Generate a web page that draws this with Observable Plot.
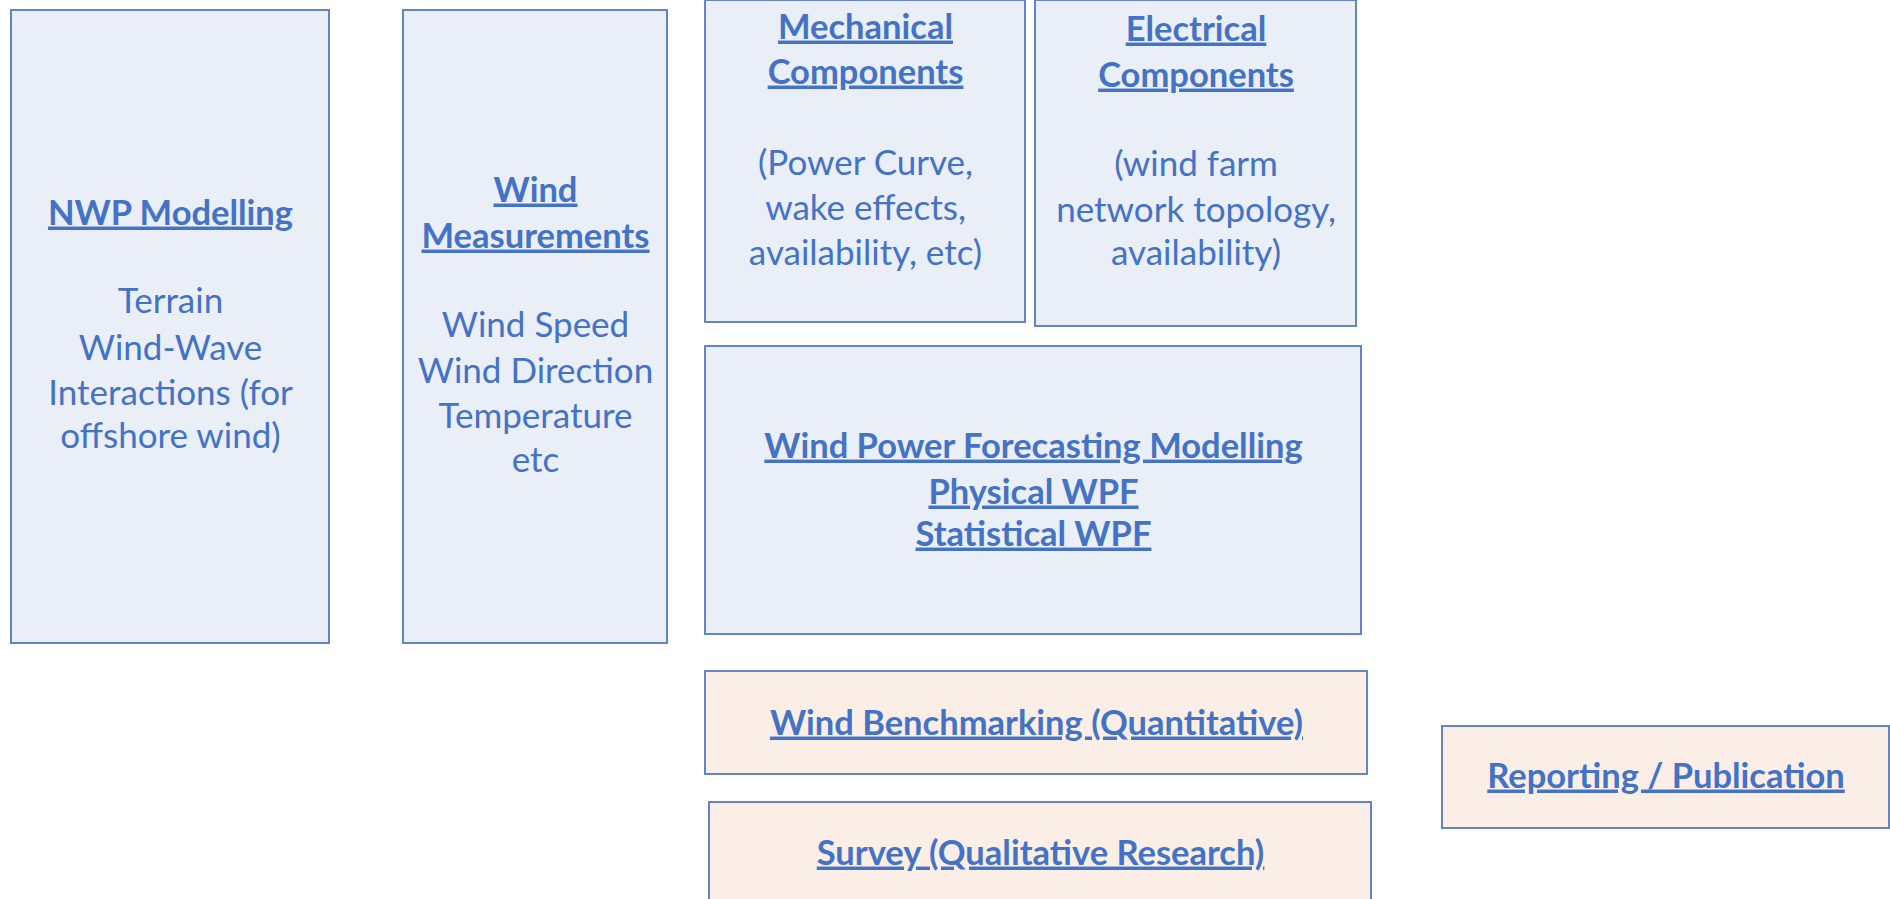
<!DOCTYPE html>
<html>
<head>
<meta charset="utf-8">
<script src="https://cdn.jsdelivr.net/npm/d3@7"></script>
<script src="https://cdn.jsdelivr.net/npm/@observablehq/plot@0.6"></script>
<style>
  html, body { margin: 0; padding: 0; background: #ffffff; }
  #chart svg { display: block; }
  #chart g.title-line text { text-decoration: underline; }
</style>
</head>
<body>
<div id="chart"></div>
<script>
// ---- Data: boxes of the diagram ----
const boxNames = ["NWP Modelling", "Wind Measurements", "Mechanical Components", "Electrical Components",
  "Wind Power Forecasting Modelling", "Wind Benchmarking", "Survey", "Reporting / Publication"];
const boxKind = ["model", "model", "model", "model", "model", "evaluation", "evaluation", "evaluation"];
const boxLeft   = [11, 403, 705, 1035, 705, 705, 709, 1442];
const boxRight  = [329, 667, 1025, 1356, 1361, 1367, 1371, 1889];
const boxTop    = [10, 10, 0, 0, 346, 671, 802, 726];
const boxBottom = [643, 643, 322, 326, 634, 774, 905, 828];

// ---- Data: text lines ----
const lineText = [
  "NWP Modelling", "Terrain", "Wind-Wave", "Interactions (for", "offshore wind)",
  "Wind", "Measurements", "Wind Speed", "Wind Direction", "Temperature", "etc",
  "Mechanical", "Components", "(Power Curve,", "wake effects,", "availability, etc)",
  "Electrical", "Components", "(wind farm", "network topology,", "availability)",
  "Wind Power Forecasting Modelling", "Physical WPF", "Statistical WPF",
  "Wind Benchmarking (Quantitative)", "Survey (Qualitative Research)", "Reporting / Publication"
];
const lineBox = [0,0,0,0,0, 1,1,1,1,1,1, 2,2,2,2,2, 3,3,3,3,3, 4,4,4, 5,6,7];
const lineY = [213, 301, 348, 393, 436,
  190, 236, 325, 371, 416, 460,
  27, 72, 163, 208, 253,
  29, 75, 164, 210, 253,
  446, 492, 534,
  723, 853, 776];
const lineIsTitle = [true,false,false,false,false,
  true,true,false,false,false,false,
  true,true,false,false,false,
  true,true,false,false,false,
  true,true,true,
  true,true,true];

const boxes = boxNames.map((name, i) => ({name, kind: boxKind[i], x1: boxLeft[i], x2: boxRight[i], y1: boxTop[i], y2: boxBottom[i]}));
const lines = lineText.map((text, i) => ({
  text, title: lineIsTitle[i], y: lineY[i],
  x: (boxLeft[lineBox[i]] + boxRight[lineBox[i]]) / 2
}));

const W = 1890, H = 899;
const textColor = "#4472C4";
const fontFamily = "Lato, 'Open Sans', sans-serif";

const chart = Plot.plot({
  width: W, height: H,
  margin: 0,
  x: {domain: [0, W], range: [0, W], axis: null},
  y: {domain: [0, H], range: [0, H], axis: null},
  color: {domain: ["model", "evaluation"], range: ["#E9EEF7", "#FBEEE6"]},
  style: {background: "#ffffff", fontFamily},
  marks: [
    Plot.rect(boxes, {x1: "x1", x2: "x2", y1: "y1", y2: "y2", fill: "kind", stroke: "#6584C4", strokeWidth: 2}),
    Plot.text(lines.filter(d => d.title), {x: "x", y: "y", text: "text", fill: textColor, fontSize: 34.5, fontWeight: "bold", className: "title-line"}),
    Plot.text(lines.filter(d => !d.title), {x: "x", y: "y", text: "text", fill: textColor, fontSize: 35, fontWeight: "normal"})
  ]
});
// ensure underline class even if className option unsupported
d3.select(chart).selectAll("g[font-weight='bold']").classed("title-line", true);
document.getElementById("chart").appendChild(chart);
</script>
</body>
</html>
